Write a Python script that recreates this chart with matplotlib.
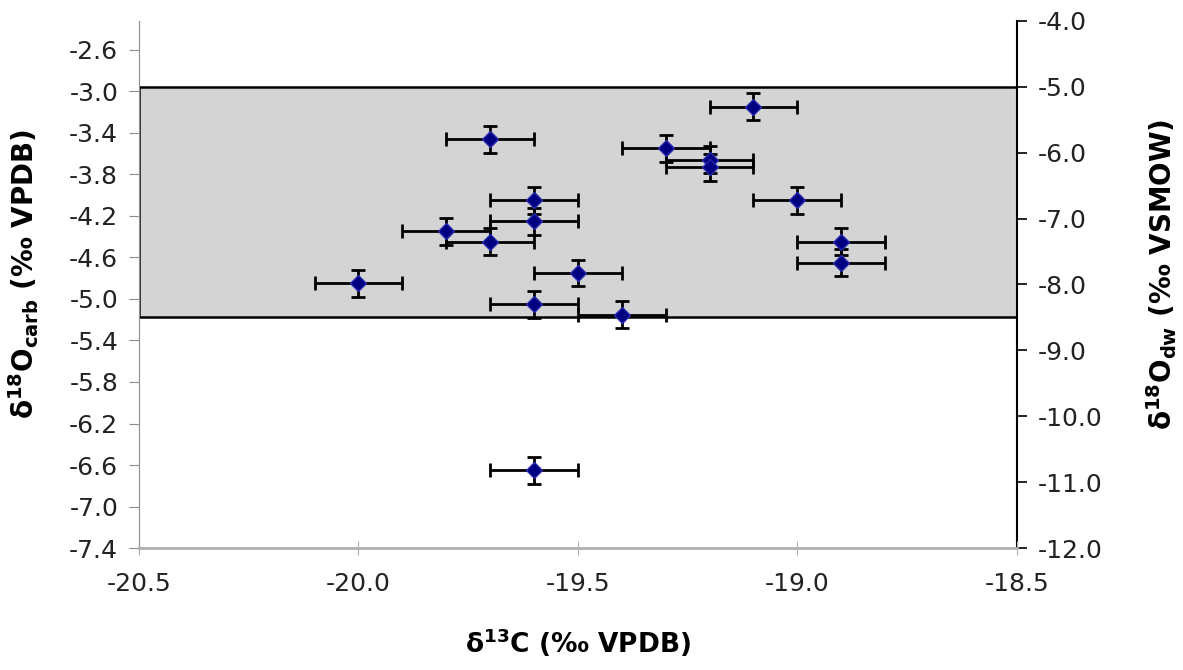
import matplotlib.pyplot as plt
import matplotlib.ticker as mticker
import numpy as np

# measured values, d13C vs d18O carbonate
d13c = [-19.7, -19.3, -19.2, -19.2, -19.6, -19.6, -19.8, -19.7, -19.5,
        -20.0, -19.6, -19.4, -19.1, -19.0, -18.9, -18.9, -19.6]
d18o_carb = [-3.46, -3.55, -3.66, -3.73, -4.05, -4.25, -4.35, -4.45, -4.75,
             -4.85, -5.05, -5.15, -3.15, -4.05, -4.45, -4.65, -6.65]
d13c_err = [0.1] * len(d13c)
d18o_err = [0.13] * len(d13c)

# drinking water range (right axis)
band_top = -5.0
band_bottom = -8.5

x_ticks = [-20.5, -20.0, -19.5, -19.0, -18.5]
left_ticks = [-7.4, -7.0, -6.6, -6.2, -5.8, -5.4, -5.0, -4.6, -4.2, -3.8, -3.4, -3.0, -2.6]
right_ticks = [-12.0, -11.0, -10.0, -9.0, -8.0, -7.0, -6.0, -5.0, -4.0]

plt.rcParams['font.family'] = ['DejaVu Sans']
plt.rcParams['mathtext.fontset'] = 'dejavusans'

fig = plt.figure(figsize=(11.83, 6.70), dpi=100)
ax = fig.add_axes([0.1175, 0.182, 0.742, 0.787])
ax2 = ax.twinx()

# band behind the data
ax.set_zorder(ax2.get_zorder() + 1)
ax.patch.set_visible(False)
ax2.axhspan(band_bottom, band_top, facecolor='#d4d4d4', edgecolor='black', linewidth=1.8)

ax.errorbar(d13c, d18o_carb, xerr=d13c_err, yerr=d18o_err, fmt='none',
            ecolor='black', elinewidth=2, capsize=5, capthick=2, zorder=2)
ax.plot(d13c, d18o_carb, 'D', color='#000080', markeredgecolor='#2a2ab0',
        markersize=8.5, zorder=3)

ax.set_xlim(-20.5, -18.5)
ax.set_ylim(-7.4, -2.32)
ax2.set_ylim(-12.0, -4.0)

ax.set_xticks(x_ticks)
ax.set_yticks(left_ticks)
ax2.set_yticks(right_ticks)
ax.xaxis.set_major_formatter(mticker.FormatStrFormatter('%.1f'))
ax.yaxis.set_major_formatter(mticker.FormatStrFormatter('%.1f'))
ax2.yaxis.set_major_formatter(mticker.FormatStrFormatter('%.1f'))

for s in ['top', 'right']:
    ax.spines[s].set_visible(False)
for s in ['top', 'bottom', 'left']:
    ax2.spines[s].set_visible(False)
ax.spines['left'].set_color('#8c8c8c')
ax.spines['bottom'].set_color('#b0b0b0')
ax.spines['bottom'].set_linewidth(2)
ax2.spines['right'].set_color('black')
ax2.spines['right'].set_linewidth(1.5)

ax.tick_params(axis='y', direction='out', length=7, color='#8c8c8c',
               labelsize=18, labelcolor='#222222', pad=8)
ax.tick_params(axis='x', direction='inout', length=10, color='#b0b0b0',
               labelsize=18, labelcolor='#222222', pad=12)
ax2.tick_params(axis='y', direction='out', length=7, color='black', width=1.2,
                labelsize=18, labelcolor='#222222', pad=8)

ax.set_xlabel(r'δ$^{\mathbf{13}}$C (‰ VPDB)', fontsize=19, fontweight='bold')
ax.set_ylabel(r'δ$^{\mathbf{18}}$O$_{\mathbf{carb}}$ (‰ VPDB)', fontsize=20,
              fontweight='bold')
ax2.set_ylabel(r'δ$^{\mathbf{18}}$O$_{\mathbf{dw}}$ (‰ VSMOW)', fontsize=20,
               fontweight='bold')
ax.xaxis.set_label_coords(0.5, -0.148)
ax.yaxis.set_label_coords(-0.112, 0.52)
ax2.yaxis.set_label_coords(1.145, 0.52)

fig.savefig('out.png', dpi=100)
